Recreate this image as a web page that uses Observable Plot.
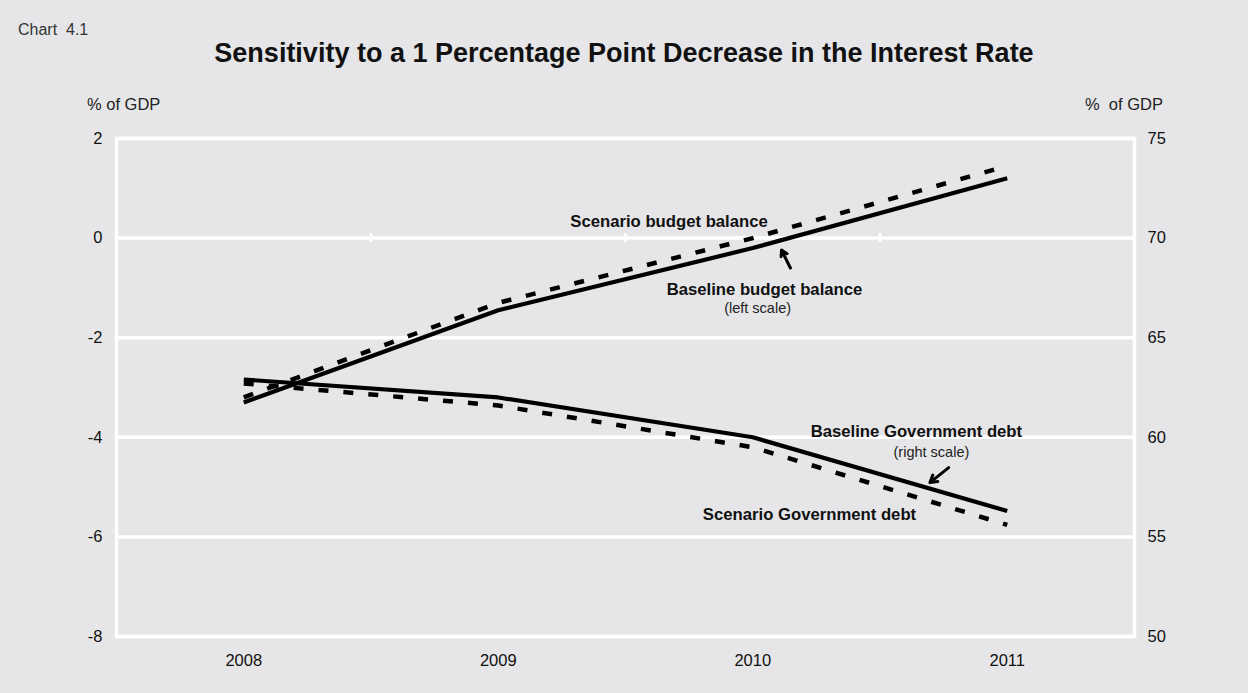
<!DOCTYPE html>
<html>
<head>
<meta charset="utf-8">
<script src="https://cdn.jsdelivr.net/npm/d3@7"></script>
<script src="https://cdn.jsdelivr.net/npm/@observablehq/plot@0.6"></script>
<style>
  html, body { margin: 0; padding: 0; background: #e6e6e8; }
  #wrap { position: relative; width: 1248px; height: 693px; background: #e6e6e8; font-family: "Liberation Sans", Arial, sans-serif; color: #111; }
  #wrap svg { position: absolute; left: 0; top: 0; }
  .lbl { position: absolute; white-space: pre; line-height: 1; }
</style>
</head>
<body>
<div id="wrap">
  <div class="lbl" style="left:18px; top:22px; font-size:16px; color:#333;">Chart  4.1</div>
  <div class="lbl" style="left:0; width:1248px; top:40px; text-align:center; font-size:27px; font-weight:bold; color:#111;">Sensitivity to a 1 Percentage Point Decrease in the Interest Rate</div>
  <div class="lbl" style="left:87px; top:96px; font-size:16.5px; color:#222;">% of GDP</div>
  <div class="lbl" style="left:1085px; top:96px; font-size:16.5px; color:#222;">%  of GDP</div>
</div>
<script>
// ---- data ----
const years = [2008, 2009, 2010, 2011];
const baselineBalance = [-3.3, -1.45, -0.2, 1.2];      // left scale, % of GDP
const scenarioBalance = [-3.2, -1.3, 0.0, 1.45];       // left scale
const baselineDebt = [62.9, 62.0, 60.0, 56.3];         // right scale, % of GDP
const scenarioDebt = [62.7, 61.6, 59.5, 55.6];         // right scale
const leftTicks = [-8, -6, -4, -2, 0, 2];
const rightTicks = [50, 55, 60, 65, 70, 75];

// annotation labels (data coordinates: year, left-scale value)
const labelText = ["Scenario budget balance", "Baseline budget balance", "(left scale)",
                   "Baseline Government debt", "(right scale)", "Scenario Government debt"];
const labelX = [2009.671, 2010.046, 2010.019, 2010.643, 2010.702, 2010.223];
const labelY = [0.33, -1.03, -1.41, -3.88, -4.3, -5.55];
const labelBold = [true, true, false, true, false, true];
// arrows: tail -> head
const arrowX1 = [2010.148, 2010.77];
const arrowY1 = [-0.6, -4.61];
const arrowX2 = [2010.113, 2010.696];
const arrowY2 = [-0.24, -4.91];

// right scale (50..75) mapped onto left scale (-8..2)
const toLeft = r => (r - 50) * 0.4 - 8;
const fromLeft = l => Math.round((l + 8) / 0.4 + 50);

const rows = (vals, f = v => v) => years.map((yr, i) => ({x: yr, y: f(vals[i])}));
const labels = labelText.map((t, i) => ({t, x: labelX[i], y: labelY[i], bold: labelBold[i]}));
const arrows = arrowX1.map((_, i) => ({x1: arrowX1[i], y1: arrowY1[i], x2: arrowX2[i], y2: arrowY2[i]}));
const midTicks = years.slice(1).map(y => y - 0.5);

const chart = Plot.plot({
  width: 1248,
  height: 693,
  marginLeft: 116,
  marginRight: 114,
  marginTop: 138,
  marginBottom: 57,
  style: {background: "transparent", fontFamily: "Liberation Sans, Arial, sans-serif", fontSize: "16.5px", color: "#111"},
  x: {domain: [2007.5, 2011.5], label: null},
  y: {domain: [-8, 2], label: null},
  marks: [
    Plot.ruleY(leftTicks, {stroke: "white", strokeWidth: 3.5}),
    Plot.frame({stroke: "white", strokeWidth: 3.5}),
    Plot.ruleX(midTicks, {y1: -0.09, y2: 0.09, stroke: "white", strokeWidth: 3}),
    Plot.axisY({ticks: leftTicks, tickSize: 0, tickPadding: 14, tickFormat: d => String(d), label: null, fontSize: 16.5}),
    Plot.axisY({anchor: "right", ticks: rightTicks.map(toLeft), tickSize: 0, tickPadding: 13, tickFormat: d => String(fromLeft(d)), label: null, fontSize: 16.5}),
    Plot.axisX({ticks: years, tickSize: 0, tickPadding: 18, tickFormat: d => String(d), label: null, fontSize: 16.5}),
    Plot.line(rows(scenarioBalance), {x: "x", y: "y", stroke: "black", strokeWidth: 4.5, strokeDasharray: "10,15", strokeLinecap: "butt"}),
    Plot.line(rows(scenarioDebt, toLeft), {x: "x", y: "y", stroke: "black", strokeWidth: 4.5, strokeDasharray: "10,15", strokeLinecap: "butt"}),
    Plot.line(rows(baselineBalance), {x: "x", y: "y", stroke: "black", strokeWidth: 4.2, strokeLinecap: "butt"}),
    Plot.line(rows(baselineDebt, toLeft), {x: "x", y: "y", stroke: "black", strokeWidth: 4.2, strokeLinecap: "butt"}),
    Plot.text(labels.filter(d => d.bold), {x: "x", y: "y", text: "t", fontWeight: "bold", fontSize: 16.7, fill: "#111"}),
    Plot.text(labels.filter(d => !d.bold), {x: "x", y: "y", text: "t", fontSize: 14.5, fill: "#222"}),
    Plot.arrow(arrows, {x1: "x1", y1: "y1", x2: "x2", y2: "y2", stroke: "black", strokeWidth: 3, headLength: 10})
  ]
});
document.getElementById("wrap").prepend(chart);
</script>
</body>
</html>
